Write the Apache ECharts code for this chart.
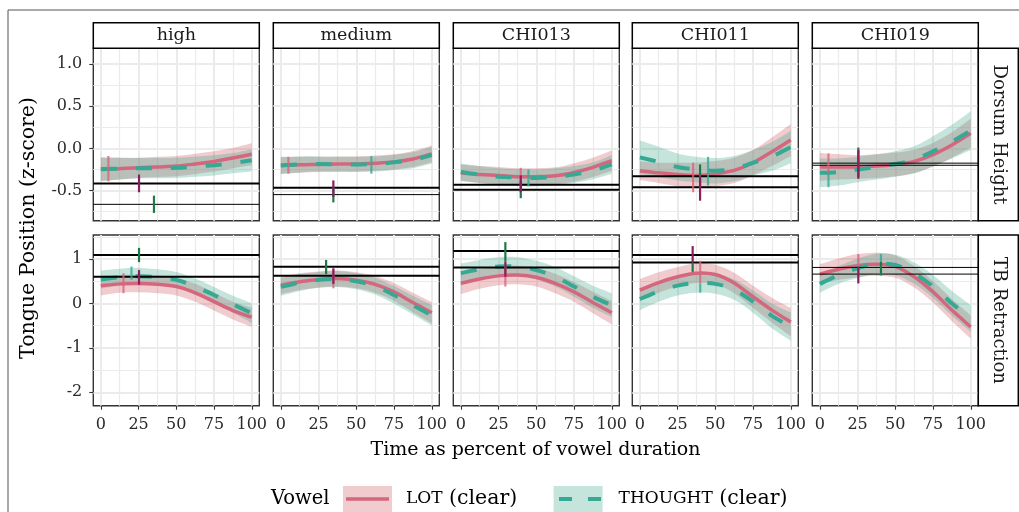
<!DOCTYPE html>
<html>
<head>
<meta charset="utf-8">
<script src="https://cdn.jsdelivr.net/npm/echarts/dist/echarts.min.js"></script>
<style>
  html, body { margin: 0; padding: 0; background: #fff; }
  #chart { width: 1019px; height: 512px; }
</style>
</head>
<body>
<div id="chart"></div>
<script>
// facets and shared axes
var facets = ['high', 'medium', 'CHI013', 'CHI011', 'CHI019'];
var measures = ['Dorsum Height', 'TB Retraction'];
var timePoints = [0, 12.5, 25, 37.5, 50, 62.5, 75, 87.5, 100];
var timeTicks = [0, 25, 50, 75, 100];
var timeMinor = [12.5, 37.5, 62.5, 87.5];
var dorsumTicks = [-0.5, 0, 0.5, 1];
var dorsumMinor = [-0.75, -0.25, 0.25, 0.75];
var retractTicks = [-2, -1, 0, 1];
var retractMinor = [-1.5, -0.5, 0.5, 1.5];

// Dorsum Height: fitted values and ribbon half widths, one row per facet
var dorsumLot = [
  [-0.25, -0.24, -0.23, -0.22, -0.21, -0.185, -0.155, -0.115, -0.07],
  [-0.205, -0.195, -0.19, -0.185, -0.185, -0.175, -0.16, -0.125, -0.065],
  [-0.29, -0.31, -0.32, -0.335, -0.335, -0.325, -0.285, -0.225, -0.145],
  [-0.265, -0.29, -0.31, -0.32, -0.30, -0.26, -0.17, -0.04, 0.10],
  [-0.22, -0.22, -0.22, -0.21, -0.19, -0.155, -0.075, 0.04, 0.18]
];
var dorsumLotCi = [
  [0.14, 0.13, 0.12, 0.12, 0.12, 0.12, 0.12, 0.12, 0.13],
  [0.1, 0.095, 0.09, 0.09, 0.09, 0.09, 0.09, 0.095, 0.1],
  [0.1, 0.1, 0.1, 0.1, 0.1, 0.1, 0.11, 0.115, 0.12],
  [0.11, 0.12, 0.14, 0.15, 0.15, 0.15, 0.15, 0.17, 0.19],
  [0.165, 0.15, 0.14, 0.14, 0.14, 0.14, 0.14, 0.15, 0.17]
];
var dorsumThought = [
  [-0.245, -0.24, -0.235, -0.235, -0.23, -0.215, -0.2, -0.175, -0.14],
  [-0.2, -0.19, -0.185, -0.19, -0.19, -0.185, -0.165, -0.14, -0.08],
  [-0.28, -0.31, -0.335, -0.345, -0.35, -0.335, -0.31, -0.265, -0.19],
  [-0.107, -0.16, -0.22, -0.25, -0.265, -0.24, -0.17, -0.095, 0.015],
  [-0.29, -0.28, -0.25, -0.22, -0.185, -0.135, -0.035, 0.08, 0.21]
];
var dorsumThoughtCi = [
  [0.14, 0.13, 0.12, 0.12, 0.12, 0.12, 0.12, 0.12, 0.13],
  [0.1, 0.095, 0.09, 0.09, 0.09, 0.09, 0.09, 0.095, 0.1],
  [0.1, 0.1, 0.1, 0.1, 0.1, 0.1, 0.1, 0.1, 0.11],
  [0.2, 0.18, 0.16, 0.15, 0.15, 0.15, 0.15, 0.17, 0.19],
  [0.17, 0.16, 0.15, 0.15, 0.15, 0.16, 0.18, 0.2, 0.23]
];

// TB Retraction
var retractLot = [
  [0.40, 0.44, 0.45, 0.43, 0.38, 0.24, 0.04, -0.16, -0.31],
  [0.41, 0.49, 0.54, 0.56, 0.52, 0.43, 0.26, 0.02, -0.21],
  [0.45, 0.55, 0.62, 0.64, 0.59, 0.45, 0.26, 0.02, -0.21],
  [0.30, 0.47, 0.60, 0.68, 0.65, 0.46, 0.15, -0.15, -0.42],
  [0.66, 0.77, 0.85, 0.88, 0.83, 0.60, 0.26, -0.15, -0.53]
];
var retractLotCi = [
  [0.22, 0.2, 0.2, 0.2, 0.2, 0.2, 0.2, 0.2, 0.22],
  [0.2, 0.19, 0.18, 0.18, 0.18, 0.19, 0.2, 0.22, 0.24],
  [0.24, 0.22, 0.21, 0.21, 0.21, 0.22, 0.22, 0.24, 0.26],
  [0.25, 0.23, 0.22, 0.22, 0.22, 0.23, 0.25, 0.28, 0.32],
  [0.22, 0.24, 0.26, 0.26, 0.25, 0.24, 0.24, 0.25, 0.26]
];
var retractThought = [
  [0.54, 0.59, 0.61, 0.59, 0.53, 0.38, 0.19, -0.02, -0.22],
  [0.37, 0.47, 0.53, 0.55, 0.50, 0.39, 0.19, -0.04, -0.27],
  [0.68, 0.77, 0.83, 0.83, 0.75, 0.60, 0.38, 0.15, -0.04],
  [0.10, 0.27, 0.40, 0.46, 0.44, 0.31, 0.04, -0.28, -0.52],
  [0.44, 0.64, 0.79, 0.89, 0.865, 0.68, 0.38, 0.0, -0.34]
];
var retractThoughtCi = [
  [0.2, 0.19, 0.19, 0.18, 0.18, 0.18, 0.18, 0.19, 0.22],
  [0.2, 0.19, 0.18, 0.18, 0.18, 0.19, 0.2, 0.21, 0.23],
  [0.22, 0.21, 0.21, 0.21, 0.21, 0.22, 0.23, 0.25, 0.27],
  [0.25, 0.23, 0.22, 0.22, 0.22, 0.23, 0.25, 0.28, 0.32],
  [0.2, 0.2, 0.22, 0.23, 0.23, 0.24, 0.26, 0.28, 0.3]
];

// horizontal reference values per facet
var dorsumRefs = [[-0.415, -0.663], [-0.466, -0.548], [-0.43, -0.49], [-0.33, -0.46], [-0.175, -0.2]];
var retractRefs = [[1.09, 0.60], [0.827, 0.625], [1.18, 0.81], [1.09, 0.92], [0.81, 0.66]];

// vertical markers: [time, low, high, kind]
// kind 0 = lot mean, 1 = thought mean, 2 = thought target, 3 = lot target
var dorsumMarks = [
  [[5, -0.39, -0.09, 0], [25.3, -0.52, -0.31, 3], [35.2, -0.765, -0.56, 2]],
  [[5, -0.30, -0.10, 0], [60, -0.30, -0.09, 1], [34.8, -0.64, -0.45, 2], [34.8, -0.575, -0.38, 3]],
  [[39.7, -0.44, -0.23, 0], [44.8, -0.45, -0.25, 1], [39.7, -0.59, -0.39, 2], [39.7, -0.52, -0.32, 3]],
  [[35.3, -0.52, -0.17, 0], [45.2, -0.44, -0.10, 1], [39.9, -0.46, -0.19, 2], [39.9, -0.62, -0.33, 3]],
  [[5.7, -0.29, -0.06, 0], [5.7, -0.46, -0.29, 1], [25.5, -0.34, 0.01, 2], [25.5, -0.36, -0.02, 3]]
];
var retractMarks = [
  [[15, 0.23, 0.68, 0], [20.3, 0.53, 0.83, 1], [25.3, 0.93, 1.25, 2], [25.3, 0.42, 0.75, 3]],
  [[34.8, 0.34, 0.78, 0], [30, 0.66, 0.98, 2], [34.8, 0.44, 0.79, 3]],
  [[29.5, 0.38, 0.85, 0], [29.5, 0.94, 1.38, 2], [29.5, 0.60, 0.94, 3]],
  [[40, 0.45, 0.96, 0], [40, 0.24, 0.45, 1], [35, 0.71, 0.92, 2], [35, 0.92, 1.29, 3]],
  [[25.5, 0.83, 1.11, 0], [40.5, 0.94, 1.11, 1], [40.5, 0.63, 0.94, 2], [25.5, 0.45, 0.83, 3]]
];

// styles
var FONT = "'DejaVu Serif', serif";
var lotColor = '#D4677D';
var thoughtColor = '#35A993';
var lotFill = 'rgba(205,85,95,0.3)';
var thoughtFill = 'rgba(60,165,140,0.3)';
var markColors = ['rgba(212,103,125,0.8)', 'rgba(53,169,147,0.8)', '#1B7A48', '#8A1F5C'];
var refLineWidth = [
  [[2, 1], [2, 1], [2, 2], [2, 2], [1, 1]],
  [[2, 2], [2, 2], [2, 2], [2, 2], [1, 1]]
];
var panelLeft = [93.3, 273.3, 453.3, 632.3, 812.3];
var panelWidth = 166;
var rowTop = [48.3, 235];
var rowHeight = [172.4, 170.7];
var rowRange = [[-0.857, 1.186], [-2.302, 1.54]];

// cubic path through pixel points (catmull-rom)
function curve(p) {
  var s = '';
  for (var i = 0; i < p.length - 1; i++) {
    var a = p[i - 1] || p[i], b = p[i], c = p[i + 1], d = p[i + 2] || c;
    s += ' C' + (b[0] + (c[0] - a[0]) / 6) + ' ' + (b[1] + (c[1] - a[1]) / 6) + ' ' +
      (c[0] - (d[0] - b[0]) / 6) + ' ' + (c[1] - (d[1] - b[1]) / 6) + ' ' + c[0] + ' ' + c[1];
  }
  return s;
}

// one path for the whole ribbon, built at the first item
function ribbonRender(fill) {
  return function (params, api) {
    if (params.dataIndexInside !== 0) return null;
    var n = params.dataInsideLength;
    var up = [], lo = [];
    for (var i = 0; i < n; i++) {
      up.push(api.coord([api.value(0, i), api.value(2, i)]));
      lo.push(api.coord([api.value(0, i), api.value(1, i)]));
    }
    lo.reverse();
    var d = 'M' + up[0][0] + ' ' + up[0][1] + curve(up) +
      ' L' + lo[0][0] + ' ' + lo[0][1] + curve(lo) + ' Z';
    return { type: 'path', shape: { pathData: d }, style: { fill: fill, stroke: null } };
  };
}

function lineRender(color, width, dash) {
  return function (params, api) {
    if (params.dataIndexInside !== 0) return null;
    var pts = [];
    for (var i = 0; i < params.dataInsideLength; i++) {
      pts.push(api.coord([api.value(0, i), api.value(1, i)]));
    }
    return {
      type: 'path',
      shape: { pathData: 'M' + pts[0][0] + ' ' + pts[0][1] + curve(pts) },
      style: { fill: 'none', stroke: color, lineWidth: width, lineDash: dash, lineCap: 'butt' }
    };
  };
}

function refRender(widths) {
  return function (params, api) {
    var cs = params.coordSys;
    var y = api.coord([0, api.value(0)])[1];
    return {
      type: 'line',
      shape: { x1: cs.x, y1: y, x2: cs.x + cs.width, y2: y },
      style: { stroke: '#000', lineWidth: widths[params.dataIndex] }
    };
  };
}

function markRender(params, api) {
  var p1 = api.coord([api.value(0), api.value(1)]);
  var p2 = api.coord([api.value(0), api.value(2)]);
  return {
    type: 'line',
    shape: { x1: p1[0], y1: p1[1], x2: p2[0], y2: p2[1] },
    style: { stroke: markColors[api.value(3)], lineWidth: 2.2 }
  };
}

function band(mean, ci) {
  return timePoints.map(function (t, k) { return [t, mean[k] - ci[k], mean[k] + ci[k]]; });
}

function pairs(vals) {
  return timePoints.map(function (t, k) { return [t, vals[k]]; });
}

var grids = [], xAxes = [], yAxes = [], series = [], graphics = [];

for (var r = 0; r < 2; r++) {
  var lot = r === 0 ? dorsumLot : retractLot;
  var lotCi = r === 0 ? dorsumLotCi : retractLotCi;
  var th = r === 0 ? dorsumThought : retractThought;
  var thCi = r === 0 ? dorsumThoughtCi : retractThoughtCi;
  var refs = r === 0 ? dorsumRefs : retractRefs;
  var marks = r === 0 ? dorsumMarks : retractMarks;
  var yTicks = r === 0 ? dorsumTicks : retractTicks;
  var yMinor = r === 0 ? dorsumMinor : retractMinor;

  for (var c = 0; c < 5; c++) {
    var g = grids.length;
    grids.push({
      left: panelLeft[c], top: rowTop[r], width: panelWidth, height: rowHeight[r],
      show: true, backgroundColor: '#fff', borderColor: '#333', borderWidth: 1.4,
      containLabel: false, outerBoundsMode: 'none'
    });
    xAxes.push({
      type: 'value', gridIndex: g, min: -5, max: 105, position: 'bottom',
      axisLine: { show: false, onZero: false },
      axisTick: { show: r === 1, customValues: timeTicks, length: 4, lineStyle: { color: '#333', width: 1.1 } },
      axisLabel: { show: r === 1, customValues: timeTicks, margin: 11, fontSize: 16, color: '#2a2a2a', fontFamily: FONT },
      splitLine: { show: true, lineStyle: { color: '#EBEBEB', width: 2 } }
    });
    xAxes.push({
      type: 'value', gridIndex: g, min: -5, max: 105, position: 'bottom',
      axisLine: { show: false, onZero: false },
      axisTick: { show: false, customValues: timeMinor },
      axisLabel: { show: false },
      splitLine: { show: true, lineStyle: { color: '#EBEBEB', width: 1.2 } }
    });
    yAxes.push({
      type: 'value', gridIndex: g, min: rowRange[r][0], max: rowRange[r][1], position: 'left',
      axisLine: { show: false, onZero: false },
      axisTick: { show: c === 0, customValues: yTicks, length: 4, lineStyle: { color: '#333', width: 1.1 } },
      axisLabel: {
        show: c === 0, customValues: yTicks, margin: 11, fontSize: 16, color: '#2a2a2a', fontFamily: FONT,
        formatter: r === 0 ? function (v) { return v.toFixed(1); } : function (v) { return String(v); }
      },
      splitLine: { show: true, lineStyle: { color: '#EBEBEB', width: 2 } }
    });
    yAxes.push({
      type: 'value', gridIndex: g, min: rowRange[r][0], max: rowRange[r][1], position: 'left',
      axisLine: { show: false, onZero: false },
      axisTick: { show: false, customValues: yMinor },
      axisLabel: { show: false },
      splitLine: { show: true, lineStyle: { color: '#EBEBEB', width: 1.2 } }
    });

    var xi = 2 * g, yi = 2 * g;
    series.push({
      type: 'custom', xAxisIndex: xi, yAxisIndex: yi, z: 1, silent: true,
      data: band(lot[c], lotCi[c]), encode: { x: 0, y: [1, 2] },
      renderItem: ribbonRender(lotFill)
    });
    series.push({
      type: 'custom', xAxisIndex: xi, yAxisIndex: yi, z: 1, silent: true,
      data: band(th[c], thCi[c]), encode: { x: 0, y: [1, 2] },
      renderItem: ribbonRender(thoughtFill)
    });
    series.push({
      type: 'custom', name: 'LOT (clear)', xAxisIndex: xi, yAxisIndex: yi, z: 2, silent: true,
      data: pairs(lot[c]), encode: { x: 0, y: 1 },
      renderItem: lineRender(lotColor, 3.5, null)
    });
    series.push({
      type: 'custom', name: 'THOUGHT (clear)', xAxisIndex: xi, yAxisIndex: yi, z: 2, silent: true,
      data: pairs(th[c]), encode: { x: 0, y: 1 },
      renderItem: lineRender(thoughtColor, 4, [16, 19])
    });
    series.push({
      type: 'custom', xAxisIndex: xi, yAxisIndex: yi, z: 3, silent: true,
      data: refs[c].map(function (v) { return [v]; }), encode: { y: 0 },
      renderItem: refRender(refLineWidth[r][c])
    });
    series.push({
      type: 'custom', xAxisIndex: xi, yAxisIndex: yi, z: 4, silent: true,
      data: marks[c], encode: { x: 0, y: [1, 2] },
      renderItem: markRender
    });

    // top strips
    if (r === 0) {
      graphics.push({
        type: 'rect', z: 10, shape: { x: panelLeft[c], y: 22.7, width: panelWidth, height: 25.6 },
        style: { fill: '#fff', stroke: '#000', lineWidth: 1.5 }
      });
      graphics.push({
        type: 'text', z: 11, x: panelLeft[c] + panelWidth / 2, y: 35.8,
        style: { text: facets[c], fontSize: 17.5, fontFamily: FONT, fill: '#1a1a1a', align: 'center', verticalAlign: 'middle' }
      });
    }
  }
  // right strips
  graphics.push({
    type: 'rect', z: 10, shape: { x: 978.3, y: rowTop[r], width: 40, height: rowHeight[r] },
    style: { fill: '#fff', stroke: '#000', lineWidth: 1.5 }
  });
  graphics.push({
    type: 'text', z: 11, x: 998.5, y: rowTop[r] + rowHeight[r] / 2, rotation: -Math.PI / 2,
    style: { text: measures[r], fontSize: 18, fontFamily: FONT, fill: '#1a1a1a', align: 'center', verticalAlign: 'middle' }
  });
}

// outer frame, axis titles, legend
graphics.push({
  type: 'rect', z: -10, shape: { x: 8, y: 10, width: 1100, height: 600 },
  style: { fill: 'none', stroke: '#555', lineWidth: 1 }
});
graphics.push({
  type: 'text', x: 29, y: 228, rotation: Math.PI / 2,
  style: { text: 'Tongue Position (z-score)', fontSize: 20.5, fontFamily: FONT, fill: '#000', align: 'center', verticalAlign: 'middle' }
});
graphics.push({
  type: 'text', x: 535.5, y: 450,
  style: { text: 'Time as percent of vowel duration', fontSize: 19, fontFamily: FONT, fill: '#000', align: 'center', verticalAlign: 'middle' }
});
graphics.push({
  type: 'text', x: 271, y: 499,
  style: { text: 'Vowel', fontSize: 19.5, fontFamily: FONT, fill: '#000', align: 'left', verticalAlign: 'middle' }
});
graphics.push({ type: 'rect', shape: { x: 343, y: 486, width: 49, height: 28 }, style: { fill: lotFill } });
graphics.push({ type: 'line', shape: { x1: 346, y1: 499, x2: 389, y2: 499 }, style: { stroke: lotColor, lineWidth: 3.5 } });
graphics.push({
  type: 'text', x: 406, y: 499,
  style: {
    text: '{sc|LOT} (clear)', fontSize: 20.5, fontFamily: FONT, fill: '#000', align: 'left', verticalAlign: 'middle',
    rich: { sc: { fontSize: 17, fontFamily: FONT, fill: '#000' } }
  }
});
graphics.push({ type: 'rect', shape: { x: 553.6, y: 486, width: 49, height: 28 }, style: { fill: thoughtFill } });
graphics.push({
  type: 'line', shape: { x1: 559, y1: 499, x2: 601, y2: 499 },
  style: { stroke: thoughtColor, lineWidth: 4, lineDash: [13, 16] }
});
graphics.push({
  type: 'text', x: 618.6, y: 499,
  style: {
    text: '{sc|THOUGHT} (clear)', fontSize: 20.5, fontFamily: FONT, fill: '#000', align: 'left', verticalAlign: 'middle',
    rich: { sc: { fontSize: 17, fontFamily: FONT, fill: '#000' } }
  }
});

var chart = echarts.init(document.getElementById('chart'), null, { renderer: 'canvas' });
chart.setOption({
  animation: false,
  backgroundColor: '#fff',
  textStyle: { fontFamily: FONT },
  grid: grids,
  xAxis: xAxes,
  yAxis: yAxes,
  series: series,
  graphic: { elements: graphics }
});
</script>
</body>
</html>
